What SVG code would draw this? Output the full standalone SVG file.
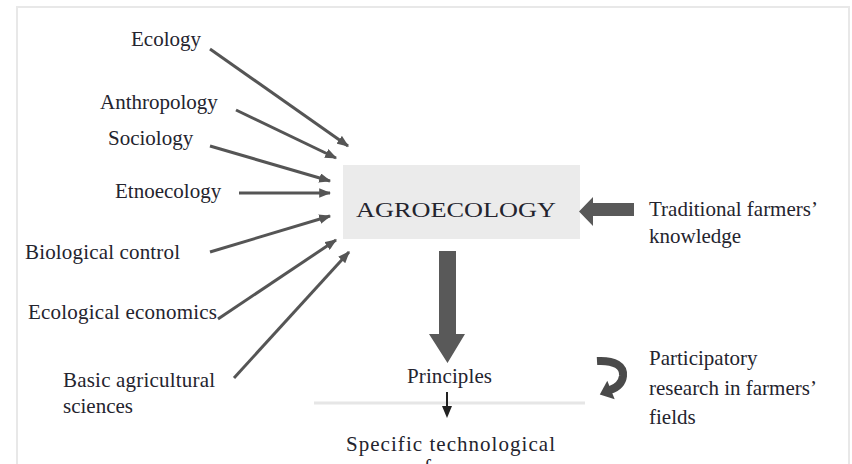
<svg xmlns="http://www.w3.org/2000/svg" width="852" height="464" viewBox="0 0 852 464">
<defs>
<marker id="ah" viewBox="0 0 10 8" refX="9" refY="4" markerWidth="4" markerHeight="3.2" orient="auto" markerUnits="strokeWidth">
<path d="M0,0 L10,4 L0,8 Z" fill="#555"/>
</marker>
</defs>
<style>
.t{fill:#24242e;font-size:21px;font-family:"Liberation Serif","Times New Roman",serif}
.thin{stroke:#555;stroke-width:3;fill:none;marker-end:url(#ah)}
.big{fill:#595959}
</style>
<rect x="0" y="0" width="852" height="464" fill="#fff"/>
<rect x="17" y="7" width="832" height="470" fill="none" stroke="#e8e8e8" stroke-width="2"/>

<g id="agroecology">
<rect x="343" y="165" width="237" height="74" fill="#ebebeb"/>
<text class="t" x="356" y="217" font-size="25.5" textLength="200" lengthAdjust="spacingAndGlyphs">AGROECOLOGY</text>
</g>
<g id="ecology"><text class="t" x="131" y="46">Ecology</text></g>
<g id="anthropology"><text class="t" x="100" y="109">Anthropology</text></g>
<g id="sociology"><text class="t" x="108" y="145">Sociology</text></g>
<g id="etnoecology"><text class="t" x="115" y="198">Etnoecology</text></g>
<g id="biological"><text class="t" x="25" y="259" textLength="155" lengthAdjust="spacing">Biological control</text></g>
<g id="ecoeconomics"><text class="t" x="28" y="319" textLength="189" lengthAdjust="spacing">Ecological economics</text></g>
<g id="basic"><text class="t" x="63" y="387" textLength="152" lengthAdjust="spacing">Basic agricultural</text><text class="t" x="63" y="413">sciences</text></g>
<g id="traditional"><text class="t" x="649" y="216" font-size="22">Traditional farmers’</text><text class="t" x="649" y="243" font-size="22">knowledge</text></g>
<g id="principles"><text class="t" x="407" y="383" font-size="20" textLength="85">Principles</text></g>
<g id="participatory"><text class="t" x="649" y="365" font-size="22">Participatory</text><text class="t" x="649" y="395" font-size="22">research in farmers’</text><text class="t" x="649" y="424" font-size="22">fields</text></g>
<g id="specific"><text class="t" x="346" y="451" font-size="23" textLength="209">Specific technological</text><text class="t" x="424" y="474" font-size="23">forms</text></g>

<g id="connectors">
<line class="thin" x1="210" y1="49" x2="348" y2="146"/>
<line class="thin" x1="236" y1="110" x2="336" y2="158"/>
<line class="thin" x1="210" y1="146" x2="330" y2="181"/>
<line class="thin" x1="239" y1="193" x2="330" y2="193"/>
<line class="thin" x1="210" y1="252" x2="330" y2="216"/>
<line class="thin" x1="218" y1="319" x2="336" y2="240"/>
<line class="thin" x1="234" y1="378" x2="349" y2="252"/>
<polygon class="big" points="634,203 593,203 593,197 579,211.5 593,226 593,216 634,216"/>
<polygon class="big" points="439,251 456,251 456,334 465,334 447.5,363 429,334 439,334"/>
<line x1="314" y1="403" x2="585" y2="403" stroke="#e6e6e6" stroke-width="3"/>
<rect x="446" y="392" width="2" height="16" fill="#222"/>
<polygon points="442,406 452,406 447,418" fill="#222"/>
<path d="M597,361 C615,360 624,366 623,376 C622,384 616,388 610,390" fill="none" stroke="#4a4a4a" stroke-width="8"/>
<polygon points="599.8,394.4 607.3,380.7 614.7,399.3" fill="#4a4a4a"/>
</g>
</svg>
